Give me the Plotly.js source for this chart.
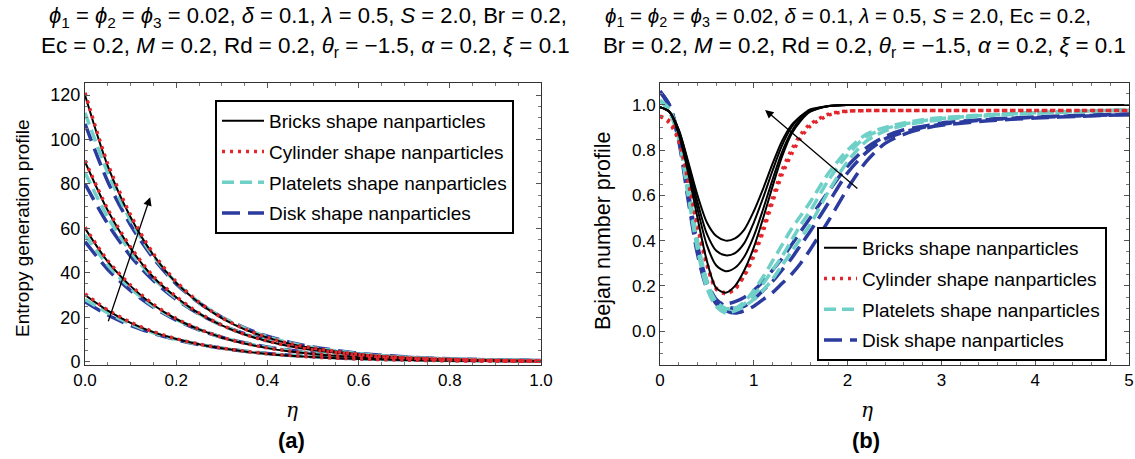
<!DOCTYPE html>
<html>
<head>
<meta charset="utf-8">
<script src="https://cdn.plot.ly/plotly-3.0.1.min.js"></script>
<style>html,body{margin:0;padding:0;background:#fff;}#chart{width:1135px;height:459px;}</style>
</head>
<body>
<div id="chart"></div>
<script>
// ---------- DATA ----------
const seriesNames = ["Bricks shape nanparticles", "Cylinder shape nanparticles", "Platelets shape nanparticles", "Disk shape nanparticles"];

// (a) Entropy generation profile vs eta
const etaA = [0, 0.05, 0.1, 0.15, 0.2, 0.25, 0.3, 0.35, 0.4, 0.45, 0.5, 0.6, 0.7, 0.8, 0.9, 1.0];
const bricksA1 = [30, 23, 17.5, 13.3, 10.2, 7.8, 6.0, 4.6, 3.5, 2.7, 2.1, 1.2, 0.7, 0.4, 0.25, 0.15];
const bricksA2 = [60, 45, 34, 25.5, 19.2, 14.5, 10.9, 8.2, 6.1, 4.6, 3.5, 2.0, 1.1, 0.6, 0.4, 0.2];
const bricksA3 = [90, 68, 51, 38, 29, 21.7, 16.3, 12.2, 9.2, 6.9, 5.2, 3.0, 1.7, 1.0, 0.5, 0.3];
const bricksA4 = [120, 88, 65, 48, 35.5, 26.5, 19.6, 14.5, 10.8, 8.0, 6.0, 3.3, 1.8, 1.0, 0.6, 0.3];
const cylinderA1 = [30.5, 23.3, 17.7, 13.5, 10.3, 7.9, 6.1, 4.7, 3.6, 2.8, 2.1, 1.2, 0.7, 0.4, 0.25, 0.15];
const cylinderA2 = [60.5, 45.5, 34.4, 25.8, 19.4, 14.7, 11.0, 8.3, 6.2, 4.7, 3.5, 2.0, 1.1, 0.6, 0.4, 0.2];
const cylinderA3 = [90.5, 68.6, 51.5, 38.4, 29.3, 21.9, 16.5, 12.3, 9.3, 7.0, 5.3, 3.0, 1.7, 1.0, 0.5, 0.3];
const cylinderA4 = [121, 89, 66, 48.6, 36, 26.8, 19.8, 14.7, 10.9, 8.1, 6.1, 3.3, 1.8, 1.0, 0.6, 0.3];
const plateletsA1 = [28, 22, 17, 13, 10.1, 7.8, 6.1, 4.7, 3.6, 2.8, 2.2, 1.3, 0.8, 0.5, 0.3, 0.2];
const plateletsA2 = [57, 43.5, 33, 25, 19, 14.5, 11, 8.4, 6.4, 4.9, 3.7, 2.2, 1.3, 0.8, 0.5, 0.3];
const plateletsA3 = [85, 65, 49.5, 37.5, 28.5, 21.6, 16.4, 12.4, 9.4, 7.1, 5.4, 3.2, 1.9, 1.1, 0.7, 0.4];
const plateletsA4 = [112, 85, 63.5, 47.5, 35.5, 26.7, 20, 15, 11.2, 8.4, 6.3, 3.6, 2.0, 1.2, 0.7, 0.4];
const diskA1 = [27, 21, 16.3, 12.7, 9.9, 7.7, 6.0, 4.7, 3.7, 2.9, 2.3, 1.4, 0.9, 0.6, 0.4, 0.3];
const diskA2 = [54, 41.5, 32, 24.5, 18.7, 14.3, 11, 8.5, 6.6, 5.1, 3.9, 2.3, 1.4, 0.9, 0.6, 0.4];
const diskA3 = [80, 62, 47.5, 36.5, 28, 21.4, 16.4, 12.6, 9.7, 7.4, 5.7, 3.4, 2.0, 1.2, 0.8, 0.5];
const diskA4 = [107, 81, 61.5, 46.5, 35, 26.5, 20, 15.2, 11.5, 8.7, 6.6, 3.8, 2.2, 1.3, 0.8, 0.5];

// (b) Bejan number profile vs eta
const etaB = [0, 0.1, 0.2, 0.3, 0.4, 0.5, 0.6, 0.7, 0.8, 0.9, 1.0, 1.1, 1.2, 1.3, 1.4, 1.5, 1.6, 1.8, 2.0, 2.2, 2.4, 2.6, 2.8, 3.0, 3.5, 4.0, 4.5, 5.0];
const bricksB1 = [0.99, 0.97, 0.89, 0.75, 0.60, 0.48, 0.42, 0.40, 0.41, 0.45, 0.53, 0.63, 0.74, 0.84, 0.91, 0.95, 0.98, 0.995, 1.0, 1.0, 1.0, 1.0, 1.0, 1.0, 1.0, 1.0, 1.0, 1.0];
const bricksB2 = [0.99, 0.97, 0.89, 0.74, 0.57, 0.43, 0.355, 0.335, 0.345, 0.39, 0.48, 0.59, 0.71, 0.82, 0.90, 0.95, 0.975, 0.995, 1.0, 1.0, 1.0, 1.0, 1.0, 1.0, 1.0, 1.0, 1.0, 1.0];
const bricksB3 = [0.99, 0.97, 0.88, 0.72, 0.54, 0.38, 0.29, 0.265, 0.28, 0.33, 0.42, 0.54, 0.67, 0.79, 0.88, 0.94, 0.97, 0.995, 1.0, 1.0, 1.0, 1.0, 1.0, 1.0, 1.0, 1.0, 1.0, 1.0];
const bricksB4 = [0.99, 0.97, 0.87, 0.70, 0.50, 0.31, 0.19, 0.17, 0.20, 0.27, 0.37, 0.50, 0.64, 0.77, 0.87, 0.93, 0.97, 0.995, 1.0, 1.0, 1.0, 1.0, 1.0, 1.0, 1.0, 1.0, 1.0, 1.0];
const cylinderB1 = [0.95, 0.93, 0.85, 0.68, 0.48, 0.30, 0.19, 0.17, 0.19, 0.245, 0.33, 0.44, 0.57, 0.69, 0.78, 0.855, 0.905, 0.955, 0.972, 0.975, 0.975, 0.975, 0.975, 0.975, 0.975, 0.975, 0.975, 0.975];
const cylinderB2 = [0.95, 0.92, 0.84, 0.66, 0.46, 0.29, 0.185, 0.165, 0.185, 0.25, 0.345, 0.46, 0.59, 0.71, 0.80, 0.87, 0.915, 0.96, 0.973, 0.975, 0.975, 0.975, 0.975, 0.975, 0.975, 0.975, 0.975, 0.975];
const plateletsB1 = [1.02, 0.98, 0.86, 0.62, 0.38, 0.20, 0.11, 0.08, 0.09, 0.11, 0.14, 0.18, 0.23, 0.29, 0.35, 0.41, 0.47, 0.62, 0.75, 0.84, 0.885, 0.91, 0.925, 0.935, 0.952, 0.963, 0.97, 0.976];
const plateletsB2 = [1.02, 0.98, 0.87, 0.64, 0.40, 0.22, 0.13, 0.10, 0.10, 0.12, 0.16, 0.21, 0.27, 0.33, 0.40, 0.47, 0.53, 0.67, 0.78, 0.86, 0.895, 0.915, 0.93, 0.94, 0.955, 0.965, 0.972, 0.978];
const plateletsB3 = [1.02, 0.97, 0.85, 0.60, 0.36, 0.19, 0.11, 0.09, 0.10, 0.13, 0.18, 0.24, 0.31, 0.38, 0.45, 0.51, 0.57, 0.70, 0.80, 0.87, 0.90, 0.92, 0.935, 0.943, 0.957, 0.967, 0.973, 0.978];
const diskB1 = [1.06, 1.0, 0.86, 0.62, 0.38, 0.22, 0.14, 0.11, 0.10, 0.11, 0.14, 0.18, 0.22, 0.27, 0.32, 0.38, 0.44, 0.57, 0.70, 0.79, 0.85, 0.88, 0.90, 0.915, 0.935, 0.945, 0.952, 0.958];
const diskB2 = [1.06, 1.0, 0.85, 0.60, 0.36, 0.20, 0.12, 0.09, 0.08, 0.09, 0.11, 0.14, 0.17, 0.21, 0.25, 0.30, 0.36, 0.49, 0.63, 0.75, 0.83, 0.87, 0.895, 0.91, 0.93, 0.942, 0.95, 0.957];
const diskB3 = [1.06, 0.99, 0.84, 0.58, 0.34, 0.19, 0.13, 0.12, 0.13, 0.15, 0.18, 0.22, 0.27, 0.32, 0.38, 0.44, 0.50, 0.62, 0.73, 0.81, 0.86, 0.89, 0.905, 0.92, 0.937, 0.947, 0.954, 0.96];

const xTicksA = [0, 0.2, 0.4, 0.6, 0.8, 1.0];
const yTicksA = [0, 20, 40, 60, 80, 100, 120];
const xTicksB = [0, 1, 2, 3, 4, 5];
const yTicksB = [0.0, 0.2, 0.4, 0.6, 0.8, 1.0];

// ---------- STYLE ----------
const W = 1135, H = 459;
const px = v => v / W;
const py = v => 1 - v / H;
const FONT = "Liberation Sans, Arial, Helvetica, sans-serif";
const styles = [
  {color: "#000000", dash: "solid", width: 2},
  {color: "#e3262b", dash: "3px,5px", width: 3.5},
  {color: "#6fd0c8", dash: "12px,6px", width: 3.5},
  {color: "#2b3b9e", dash: "18px,8px", width: 3.5}
];

function mk(x, y, s, xa, ya, leg, show) {
  const st = styles[s];
  return {
    x: x, y: y, type: "scatter", mode: "lines",
    line: {color: st.color, dash: st.dash, width: st.width, shape: "spline", smoothing: 0.8},
    name: seriesNames[s], legendgroup: leg + s, legendrank: s + 1,
    showlegend: show, legend: leg, xaxis: xa, yaxis: ya, hoverinfo: "skip"
  };
}

const groupsA = [
  [diskA1, diskA2, diskA3, diskA4, 3],
  [plateletsA1, plateletsA2, plateletsA3, plateletsA4, 2],
  [bricksA1, bricksA2, bricksA3, bricksA4, 0],
  [cylinderA1, cylinderA2, cylinderA3, cylinderA4, 1]
];
const groupsB = [
  [diskB1, diskB2, diskB3, 3],
  [plateletsB1, plateletsB2, plateletsB3, 2],
  [cylinderB1, cylinderB2, 1],
  [bricksB1, bricksB2, bricksB3, bricksB4, 0]
];

const traces = [];
groupsA.forEach(g => {
  const s = g[g.length - 1];
  g.slice(0, -1).forEach((arr, i) => traces.push(mk(etaA, arr, s, "x", "y", "legend", i === 0)));
});
groupsB.forEach(g => {
  const s = g[g.length - 1];
  g.slice(0, -1).forEach((arr, i) => traces.push(mk(etaB, arr, s, "x2", "y2", "legend2", i === 0)));
});

function axis(extra, fs) {
  return Object.assign({
    showgrid: false, zeroline: false, showline: true, linecolor: "#333", linewidth: 1,
    mirror: "allticks", ticks: "inside", ticklen: 5, tickwidth: 1, tickcolor: "#555",
    tickfont: {family: FONT, size: fs, color: "#000"}, fixedrange: true
  }, extra);
}

const yDom = [1 - 365 / H, 1 - 83 / H];
function legendCfg(x, y, iw) {
  return {
    x: px(x), y: py(y), xanchor: "left", yanchor: "top",
    bgcolor: "#ffffff", bordercolor: "#000000", borderwidth: 2,
    font: {family: FONT, size: 19, color: "#000"},
    traceorder: "grouped", tracegroupgap: 3, itemwidth: iw
  };
}

const ann = (text, x, y, font, extra) => Object.assign({
  text: text, x: px(x), y: py(y), xref: "paper", yref: "paper", showarrow: false,
  xanchor: "center", yanchor: "middle", font: font
}, extra || {});

const f = s => ({family: FONT, size: s, color: "#000"});
const annotations = [
  ann("<i>ϕ</i><sub>1</sub> = <i>ϕ</i><sub>2</sub> = <i>ϕ</i><sub>3</sub> = 0.02, <i>δ</i> = 0.1, <i>λ</i> = 0.5, <i>S</i> = 2.0, Br = 0.2,", 308, 17, f(22)),
  ann("Ec = 0.2, <i>M</i> = 0.2, Rd = 0.2, <i>θ</i><sub>r</sub> = −1.5, <i>α</i> = 0.2, <i>ξ</i> = 0.1", 305, 47, f(22.4)),
  ann("<i>ϕ</i><sub>1</sub> = <i>ϕ</i><sub>2</sub> = <i>ϕ</i><sub>3</sub> = 0.02, <i>δ</i> = 0.1, <i>λ</i> = 0.5, <i>S</i> = 2.0, Ec = 0.2,", 848, 17, f(20.5)),
  ann("Br = 0.2, <i>M</i> = 0.2, Rd = 0.2, <i>θ</i><sub>r</sub> = −1.5, <i>α</i> = 0.2, <i>ξ</i> = 0.1", 864, 47, f(22.3)),
  ann("Entropy generation profile", 22, 228, f(19), {textangle: -90}),
  ann("Bejan number profile", 603, 231, f(21.5), {textangle: -90}),
  ann("<i>η</i>", 292, 410, {family: "DejaVu Serif, serif", size: 20, color: "#000"}),
  ann("<i>η</i>", 867, 410, {family: "DejaVu Serif, serif", size: 20, color: "#000"}),
  ann("<b>(a)</b>", 291, 440, f(22)),
  ann("<b>(b)</b>", 866, 440, f(22)),
  {x: 0.143, y: 74, ax: 0.05, ay: 17.5, xref: "x", yref: "y", axref: "x", ayref: "y", text: "", showarrow: true, arrowhead: 2, arrowsize: 1.3, arrowwidth: 1.3, arrowcolor: "#000"},
  {x: 1.12, y: 0.978, ax: 2.12, ay: 0.625, xref: "x2", yref: "y2", axref: "x2", ayref: "y2", text: "", showarrow: true, arrowhead: 2, arrowsize: 1.3, arrowwidth: 1.3, arrowcolor: "#000"}
];

const layout = {
  width: W, height: H, margin: {l: 0, r: 0, t: 0, b: 0},
  paper_bgcolor: "#fff", plot_bgcolor: "#fff",
  font: {family: FONT, color: "#000"},
  xaxis: axis({domain: [px(85), px(541)], range: [0, 1], tickvals: xTicksA, tickformat: ".1f", anchor: "y",
    minor: {dtick: 0.05, ticklen: 3, ticks: "inside", tickcolor: "#777"}}, 17),
  yaxis: axis({domain: yDom, range: [-1.5, 125.4], tickvals: yTicksA, anchor: "x",
    minor: {dtick: 5, ticklen: 3, ticks: "inside", tickcolor: "#777"}}, 18),
  xaxis2: axis({domain: [px(660), px(1129)], range: [0, 5], tickvals: xTicksB, anchor: "y2",
    minor: {dtick: 0.2, ticklen: 3, ticks: "inside", tickcolor: "#777"}}, 17),
  yaxis2: axis({domain: yDom, range: [-0.15, 1.097], tickvals: yTicksB, tickformat: ".1f", anchor: "x2",
    minor: {dtick: 0.05, ticklen: 3, ticks: "inside", tickcolor: "#777"}}, 17),
  legend: legendCfg(215, 100, 42),
  legend2: legendCfg(817, 227, 33),
  annotations: annotations,
  showlegend: true
};

Plotly.newPlot("chart", traces, layout, {staticPlot: true, displayModeBar: false});
</script>
</body>
</html>
